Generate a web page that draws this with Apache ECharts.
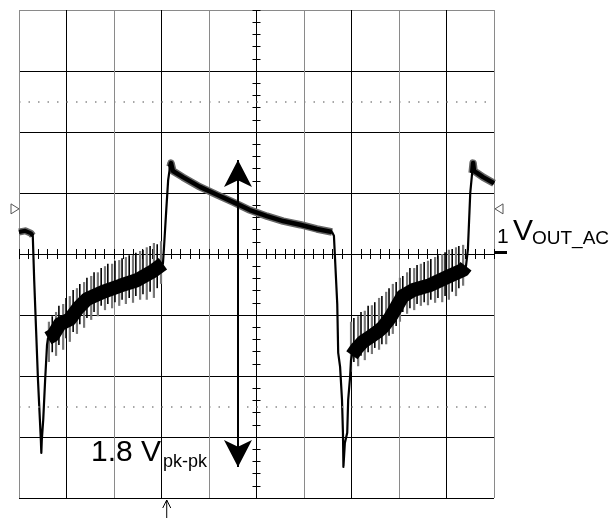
<!DOCTYPE html>
<html><head><meta charset="utf-8">
<script src="https://cdn.jsdelivr.net/npm/echarts@6/dist/echarts.min.js"></script>
<style>html,body{margin:0;padding:0;background:#fff}#c{width:611px;height:518px}</style>
</head><body><div id="c"></div>
<script>
// ---- data (time in divisions, voltage in divisions) ----
const timeDiv = [
  0, 0.13, 0.25, 0.29,
  0.32, 0.36, 0.40, 0.44, 0.46, 0.47, 0.48, 0.51, 0.55, 0.59,
  0.61, 0.72, 0.86, 1.07, 1.24, 1.43, 1.77, 2.13, 2.48, 2.82, 3.03,
  3.05, 3.10, 3.14,
  3.18, 3.20, 3.24, 3.45, 3.81, 4.17, 4.51, 4.86, 5.22, 5.56, 5.92, 6.27, 6.59,
  6.63, 6.70, 6.72, 6.76, 6.80, 6.82, 6.83, 6.86, 6.91, 6.93, 6.97, 6.99,
  7.01, 7.12, 7.24, 7.39, 7.54, 7.66, 7.81, 7.96, 8.08, 8.30, 8.65, 9.01, 9.35, 9.41,
  9.45, 9.50,
  9.54, 9.56, 9.58, 9.64, 9.77, 10.0
];
const vout = [
  0.36, 0.38, 0.34, 0.30,
  -0.43, -1.25, -2.07, -2.72, -3.05, -3.26, -3.05, -2.72, -2.07, -1.49,
  -1.38, -1.33, -1.15, -1.07, -0.89, -0.74, -0.62, -0.52, -0.43, -0.28, -0.16,
  0.07, 0.72, 1.21,
  1.43, 1.49, 1.36, 1.26, 1.10, 0.97, 0.85, 0.72, 0.62, 0.54, 0.48, 0.41, 0.36,
  0.30, -0.82, -1.62, -1.85, -2.39, -2.93, -3.49, -3.10, -2.93, -2.39, -2.02, -1.74,
  -1.66, -1.54, -1.44, -1.36, -1.28, -1.20, -1.05, -0.85, -0.69, -0.59, -0.51, -0.38, -0.26, -0.20,
  0.07, 1.00,
  1.33, 1.49, 1.36, 1.33, 1.26, 1.16
];
// noise spikes riding on the two ramps
const band1X   = [0.63,0.70,0.78,0.84,0.93,0.99,1.07,1.14,1.22,1.28,1.37,1.43,1.52,1.58,1.66,1.73,1.81,1.87,1.96,2.02,2.11,2.17,2.25,2.32,2.40,2.46,2.55,2.61,2.69,2.76,2.84,2.91,2.99];
const band1Top = [-1.11,-1.02,-0.95,-0.85,-0.82,-0.72,-0.69,-0.59,-0.56,-0.49,-0.46,-0.39,-0.36,-0.30,-0.30,-0.23,-0.20,-0.16,-0.16,-0.11,-0.10,-0.07,-0.05,-0.02,-0.02,0.02,0.05,0.07,0.11,0.13,0.18,0.16,0.21];
const band1Bot = [-1.77,-1.61,-1.67,-1.49,-1.57,-1.38,-1.44,-1.28,-1.31,-1.15,-1.21,-1.05,-1.08,-0.95,-1.02,-0.85,-0.92,-0.82,-0.89,-0.79,-0.85,-0.75,-0.82,-0.72,-0.80,-0.69,-0.75,-0.66,-0.75,-0.62,-0.72,-0.56,-0.49];
const band2X   = [6.99,7.05,7.14,7.20,7.28,7.35,7.43,7.49,7.58,7.64,7.73,7.79,7.87,7.94,8.02,8.08,8.17,8.23,8.32,8.38,8.46,8.53,8.61,8.67,8.76,8.82,8.91,8.97,9.05,9.12,9.20,9.26,9.35];
const band2Top = [-1.11,-1.05,-1.02,-0.95,-0.93,-0.85,-0.84,-0.79,-0.72,-0.69,-0.62,-0.56,-0.49,-0.46,-0.39,-0.36,-0.30,-0.23,-0.23,-0.18,-0.16,-0.13,-0.11,-0.08,-0.05,-0.02,0.00,0.03,0.07,0.08,0.11,0.13,0.15];
const band2Bot = [-1.93,-1.77,-1.84,-1.67,-1.74,-1.61,-1.64,-1.54,-1.57,-1.48,-1.48,-1.34,-1.31,-1.18,-1.11,-0.95,-0.98,-0.89,-0.92,-0.82,-0.85,-0.79,-0.84,-0.75,-0.80,-0.72,-0.79,-0.69,-0.75,-0.62,-0.69,-0.56,-0.52];
const dottedLevels = [2.5, -2.5];
const triggerLevel = 0.74;
const triggerTime = 3.11;
const measureX = 4.61, measureTop = 1.54, measureBottom = -3.49;
const labelMeasure = '1.8 V', labelMeasureSub = 'pk-pk';
const labelChannel = '1', labelTrace = 'V', labelTraceSub = 'OUT_AC';

// ---- chart ----
const FONT = '"Liberation Sans", Arial, Helvetica, sans-serif';
const G = {left: 19, top: 10, width: 475, height: 488};
const chart = echarts.init(document.getElementById('c'), null, {renderer: 'canvas'});
const pts = timeDiv.map((t, i) => [t, vout[i]]);
const seg = (a, b) => pts.slice(a, b + 1);
const spikes = (X, T, B) => X.map((x, i) => [x, B[i], T[i]]);
const spikeItem = (params, api) => {
  const x = api.value(0);
  const p1 = api.coord([x, api.value(1)]);
  const p2 = api.coord([x, api.value(2)]);
  const odd = params.dataIndex % 2 === 1;
  return {type: 'line', shape: {x1: p1[0], y1: p1[1], x2: p2[0], y2: p2[1]},
          style: {stroke: odd ? '#000' : '#777', lineWidth: odd ? 1.6 : 2.2}};
};
const baseAxis = {type: 'value', axisLabel: {show: false}, axisTick: {show: false},
                  axisLine: {show: false, onZero: false}};
const lineS = (data, color, width, z) => ({type: 'line', data, showSymbol: false, silent: true,
  z, lineStyle: {color, width, join: 'round', cap: 'butt'}, animation: false});

const greyLines = [];
for (let i = 0; i < 9; i++) greyLines.push(i === 8 ? '#8a8a8a' : '#000');

const option = {
  animation: false,
  backgroundColor: '#fff',
  grid: {left: G.left, top: G.top, width: G.width, height: G.height, containLabel: false, outerBoundsMode: 'none'},
  xAxis: [
    Object.assign({}, baseAxis, {min: 0, max: 10, interval: 1, position: 'bottom',
      splitLine: {show: true, lineStyle: {color: ['#8a8a8a', '#000'], width: 1}}}),
    Object.assign({}, baseAxis, {min: 0, max: 10, interval: 0.2, position: 'bottom',
      offset: -(G.height / 2 - 5),
      axisTick: {show: true, inside: true, length: 10, lineStyle: {color: '#000', width: 1}},
      splitLine: {show: false}})
  ],
  yAxis: [
    Object.assign({}, baseAxis, {min: -4, max: 4, interval: 1, position: 'left',
      splitLine: {show: true, lineStyle: {color: greyLines, width: 1}}}),
    Object.assign({}, baseAxis, {min: -4, max: 4, interval: 0.2, position: 'left',
      offset: -(G.width / 2 - 4),
      axisTick: {show: true, inside: true, length: 8, lineStyle: {color: '#000', width: 1}},
      splitLine: {show: false}})
  ],
  series: [
    {type: 'line', data: [], silent: true, z: 1,
     markLine: {silent: true, symbol: 'none', label: {show: false}, animation: false,
       lineStyle: {color: '#8a8a8a', width: 1.5, type: [1.5, 8]},
       data: dottedLevels.map(v => ({yAxis: v}))}},
    lineS(seg(0, 3), '#666', 7, 2),
    lineS(seg(28, 40), '#666', 7.5, 2),
    lineS(seg(69, 74), '#666', 7.5, 2),
    {type: 'custom', data: spikes(band1X, band1Top, band1Bot), renderItem: spikeItem, silent: true, z: 3,
     encode: {x: 0, y: [1, 2]}},
    {type: 'custom', data: spikes(band2X, band2Top, band2Bot), renderItem: spikeItem, silent: true, z: 3,
     encode: {x: 0, y: [1, 2]}},
    lineS(pts, '#000', 2.2, 4),
    lineS(seg(14, 24), '#000', 14, 5),
    lineS(seg(53, 66), '#000', 14, 5),
    lineS(seg(0, 3), '#000', 4, 5),
    lineS(seg(28, 40), '#000', 4.5, 5),
    lineS(seg(69, 74), '#000', 4.5, 5),
    {type: 'line', data: [], silent: true, z: 6,
     markLine: {silent: true, symbol: ['arrow', 'arrow'], symbolSize: [21, 27], label: {show: false},
       animation: false, lineStyle: {color: '#000', width: 2, type: 'solid'},
       data: [[{coord: [measureX, measureTop]}, {coord: [measureX, measureBottom]}]]}}
  ]
};
chart.setOption(option);

const px = (x, y) => chart.convertToPixel({gridIndex: 0}, [x, y]);
const tl = px(0, triggerLevel), tr = px(10, triggerLevel);
const tb = px(triggerTime, -4);
const g0 = px(10, 0);
chart.setOption({graphic: [
  {type: 'polygon', shape: {points: [[tl[0] - 8, tl[1] - 5], [tl[0], tl[1]], [tl[0] - 8, tl[1] + 5]]},
   style: {fill: '#fff', stroke: '#555', lineWidth: 1}, silent: true},
  {type: 'polygon', shape: {points: [[tr[0] + 9, tr[1] - 5], [tr[0] + 1, tr[1]], [tr[0] + 9, tr[1] + 5]]},
   style: {fill: '#fff', stroke: '#555', lineWidth: 1}, silent: true},
  {type: 'polyline', shape: {points: [[tb[0], tb[1] + 2], [tb[0], 518]]},
   style: {stroke: '#000', lineWidth: 1, fill: null}, silent: true},
  {type: 'polyline', shape: {points: [[tb[0] - 4, tb[1] + 10], [tb[0], tb[1] + 2], [tb[0] + 4, tb[1] + 10]]},
   style: {stroke: '#000', lineWidth: 1, fill: null}, silent: true},
  {type: 'line', shape: {x1: g0[0], y1: g0[1] - 1.5, x2: g0[0] + 13, y2: g0[1] - 1.5},
   style: {stroke: '#000', lineWidth: 3}, silent: true},
  {type: 'text', x: 497, y: 227, silent: true,
   style: {text: labelChannel, font: '21px ' + FONT, fill: '#000', verticalAlign: 'top'}},
  {type: 'text', x: 513, y: 216.6, silent: true,
   style: {text: labelTrace, font: '30px ' + FONT, fill: '#000', verticalAlign: 'top'}},
  {type: 'text', x: 532, y: 228.9, silent: true,
   style: {text: labelTraceSub, font: '19px ' + FONT, fill: '#000', verticalAlign: 'top'}},
  {type: 'text', x: 91, y: 437.6, silent: true,
   style: {text: labelMeasure, font: '30px ' + FONT, fill: '#000', verticalAlign: 'top'}},
  {type: 'text', x: 163, y: 452.8, silent: true,
   style: {text: labelMeasureSub, font: '18px ' + FONT, fill: '#000', verticalAlign: 'top'}}
]});
</script></body></html>
